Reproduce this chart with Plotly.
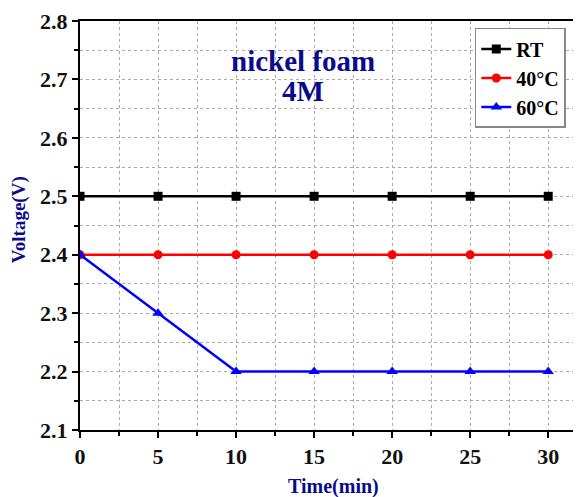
import plotly.graph_objects as go

time_min = [0, 5, 10, 15, 20, 25, 30]
rt = [2.5, 2.5, 2.5, 2.5, 2.5, 2.5, 2.5]
c40 = [2.4, 2.4, 2.4, 2.4, 2.4, 2.4, 2.4]
c60 = [2.4, 2.3, 2.2, 2.2, 2.2, 2.2, 2.2]

FONT = "Liberation Serif"
NAVY = "#0a0a8c"

fig = go.Figure()
fig.add_trace(go.Scatter(x=time_min, y=rt, name="<b>RT</b>", mode="lines+markers",
                         line=dict(color="black", width=2.5),
                         marker=dict(symbol="square", size=9, color="black")))
fig.add_trace(go.Scatter(x=time_min, y=c40, name="<b>40°C</b>", mode="lines+markers",
                         line=dict(color="red", width=2.5),
                         marker=dict(symbol="circle", size=9, color="red")))
fig.add_trace(go.Scatter(x=time_min, y=c60, name="<b>60°C</b>", mode="lines+markers",
                         line=dict(color="blue", width=2.5),
                         marker=dict(symbol="triangle-up", size=10, color="blue")))

axis_common = dict(showline=True, linecolor="black", linewidth=2, ticks="outside",
                   ticklen=6, tickwidth=2, tickcolor="black", automargin=False,
                   showgrid=True, gridcolor="#aaaaaa", griddash="dot", gridwidth=1,
                   zeroline=False,
                   tickfont=dict(family=FONT, size=22, color="#111111", weight="bold"))

fig.update_xaxes(range=[0, 32.1], dtick=5, tick0=0, mirror=True,
                 minor=dict(dtick=2.5, ticks="outside", ticklen=4, tickwidth=2, tickcolor="black",
                            showgrid=True, gridcolor="#aaaaaa", griddash="dot", gridwidth=1),
                 **axis_common)
fig.update_yaxes(range=[2.1, 2.8], dtick=0.1, tick0=2.1, tickformat=".1f",
                 minor=dict(dtick=0.05, ticks="outside", ticklen=4, tickwidth=2, tickcolor="black",
                            showgrid=True, gridcolor="#aaaaaa", griddash="dot", gridwidth=1),
                 **axis_common)

# axis titles
fig.add_annotation(x=0.505, y=-0.137, xref="paper", yref="paper", text="<b>Time(min)</b>",
                   xanchor="center", yanchor="middle",
                   showarrow=False, font=dict(family=FONT, size=20, color=NAVY))
fig.add_annotation(x=-0.123, y=0.514, xref="paper", yref="paper", text="<b>Voltage(V)</b>",
                   xanchor="center", yanchor="middle",
                   showarrow=False, textangle=-90, font=dict(family=FONT, size=19, color=NAVY))

fig.add_annotation(x=14.3, y=2.731, xref="x", yref="y", text="<b>nickel foam</b>", showarrow=False,
                   xanchor="center", yanchor="middle",
                   font=dict(family=FONT, size=29, color=NAVY))
fig.add_annotation(x=14.3, y=2.68, xref="x", yref="y", text="<b>4M</b>", showarrow=False,
                   xanchor="center", yanchor="middle",
                   font=dict(family=FONT, size=29, color=NAVY))

# page body has an 8px margin; size/margins compensate so the plot area sits where the reference's does
fig.update_layout(
    width=573, height=489,
    margin=dict(l=72, r=0, t=13, b=67, autoexpand=False),
    plot_bgcolor="white", paper_bgcolor="white",
    font=dict(family=FONT, color="black"),
    legend=dict(x=0.788, y=0.983, xanchor="left", yanchor="top",
                bgcolor="white", bordercolor="#888888", borderwidth=1.5,
                font=dict(family=FONT, size=20, color="black"),
                tracegroupgap=0),
    showlegend=True,
)

fig.write_html("out.html")
